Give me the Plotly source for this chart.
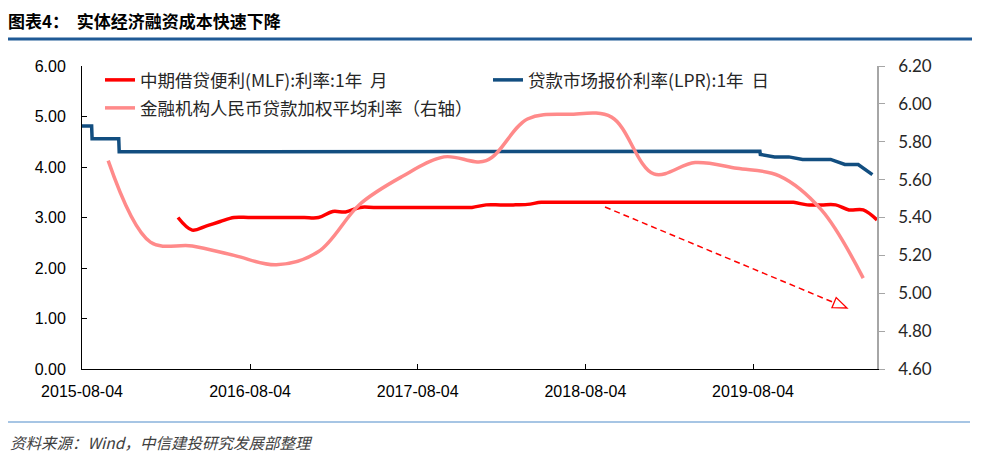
import pandas as pd
import plotly.graph_objects as go

# ---------------- data ----------------
# MLF 1-year rate, monthly (left axis)
mlf_dates = pd.date_range("2016-02-29", "2020-04-30", freq="ME")
mlf_values = [
    3.00, 2.75, 2.83, 2.92, 3.00, 3.00, 3.00, 3.00, 3.00, 3.00, 3.00,          # 2016 Feb-Dec
    3.12, 3.11, 3.20, 3.20, 3.20, 3.20, 3.20, 3.20, 3.20, 3.20, 3.20, 3.25,    # 2017
    3.25, 3.25, 3.26, 3.30, 3.30, 3.30, 3.30, 3.30, 3.30, 3.30, 3.30, 3.30,    # 2018
    3.30, 3.30, 3.30, 3.30, 3.30, 3.30, 3.30, 3.30, 3.30, 3.30, 3.25, 3.25,    # 2019
    3.25, 3.15, 3.15, 2.95,                                                    # 2020 Jan-Apr
]

# LPR 1-year, daily (change points, left axis)
lpr_dates = ["2015-08-04", "2015-08-25", "2015-08-26", "2015-10-23", "2015-10-24",
             "2018-03-01", "2018-03-02", "2019-08-19", "2019-08-20", "2019-09-20",
             "2019-10-21", "2019-11-20", "2019-12-20", "2020-01-20", "2020-02-20",
             "2020-03-20", "2020-04-20"]
lpr_values = [4.81, 4.81, 4.56, 4.56, 4.30,
              4.30, 4.31, 4.31, 4.25, 4.20,
              4.20, 4.15, 4.15, 4.15, 4.05,
              4.05, 3.85]

# Weighted average lending rate, quarterly (right axis)
wal_dates = ["2015-09-30", "2015-12-31", "2016-03-31", "2016-06-30", "2016-09-30",
             "2016-12-31", "2017-03-31", "2017-06-30", "2017-09-30", "2017-12-31",
             "2018-03-31", "2018-06-30", "2018-09-30", "2018-12-31", "2019-03-31",
             "2019-06-30", "2019-09-30", "2019-12-31", "2020-03-31"]
wal_values = [5.70, 5.27, 5.25, 5.20, 5.15,
              5.22, 5.47, 5.615, 5.72, 5.70,
              5.92, 5.945, 5.93, 5.63, 5.69,
              5.66, 5.62, 5.44, 5.08]

x_ticks = ["2015-08-04", "2016-08-04", "2017-08-04", "2018-08-04", "2019-08-04"]
x_range = ["2015-08-04", "2020-04-30"]

name_mlf = "中期借贷便利(MLF):利率:1年  月"
name_lpr = "贷款市场报价利率(LPR):1年  日"
name_wal = "金融机构人民币贷款加权平均利率（右轴）"
title_text = "图表4：  实体经济融资成本快速下降"
source_text = "资料来源：Wind，中信建投研究发展部整理"

# ---------------- layout helpers ----------------
W, H = 994, 461
L, R, T, B = 82, 877, 66, 369


def pxx(px):
    return (px - L) / (R - L)


def pxy(py):
    return (B - py) / (B - T)


CJK = "Noto Sans CJK SC"

fig = go.Figure()
fig.add_trace(go.Scatter(x=mlf_dates, y=mlf_values, name=name_mlf, mode="lines",
                         line=dict(color="#FF0000", width=3.5, shape="spline", smoothing=1),
                         legend="legend"))
fig.add_trace(go.Scatter(x=lpr_dates, y=lpr_values, name=name_lpr, mode="lines",
                         line=dict(color="#124E80", width=3.5),
                         legend="legend"))
fig.add_trace(go.Scatter(x=wal_dates, y=wal_values, name=name_wal, mode="lines",
                         line=dict(color="#FF8A8A", width=3.5, shape="spline", smoothing=1),
                         yaxis="y2", legend="legend2"))

# dashed arrow (decoration)
sx, sy, ex, ey = 605, 207, 847, 308
fig.add_shape(type="line", xref="paper", yref="paper",
              x0=pxx(sx), y0=pxy(sy), x1=pxx(ex - 3), y1=pxy(ey - 1.2),
              line=dict(color="#FF0000", width=1.5, dash="6px,4px"))
ux, uy = (ex - sx), (ey - sy)
n = (ux ** 2 + uy ** 2) ** 0.5
ux, uy = ux / n, uy / n
bx, by = ex - 14 * ux, ey - 14 * uy
c1 = (bx - 5.5 * uy, by + 5.5 * ux)
c2 = (bx + 5.5 * uy, by - 5.5 * ux)
path = "M {} {} L {} {} L {} {} Z".format(pxx(c1[0]), pxy(c1[1]), pxx(ex), pxy(ey),
                                         pxx(c2[0]), pxy(c2[1]))
fig.add_shape(type="path", xref="paper", yref="paper", path=path,
              line=dict(color="#FF0000", width=1.3), fillcolor="white")

# header / footer rules
fig.add_shape(type="line", xref="paper", yref="paper", x0=pxx(8), x1=pxx(972),
              y0=pxy(39), y1=pxy(39), line=dict(color="#1F5A96", width=3))
fig.add_shape(type="line", xref="paper", yref="paper", x0=pxx(8), x1=pxx(970),
              y0=pxy(422), y1=pxy(422), line=dict(color="#4F8BC9", width=1))

fig.add_annotation(text=source_text, xref="paper", yref="paper", x=pxx(8), y=pxy(442),
                   xanchor="left", yanchor="middle", showarrow=False,
                   font=dict(family=CJK, size=15.5, color="#404040", style="italic"))

fig.update_layout(
    width=W, height=H, autosize=False,
    margin=dict(l=L, r=W - R, t=T, b=H - B),
    paper_bgcolor="white", plot_bgcolor="white",
    hovermode=False,
    title=dict(text=title_text, x=8 / W, xref="container", xanchor="left",
               y=1 - 22 / H, yref="container", yanchor="middle",
               font=dict(family=CJK, size=17, color="#000000", weight="bold")),
    legend=dict(orientation="h", x=pxx(100), y=pxy(80), xanchor="left", yanchor="middle",
                entrywidth=343, font=dict(family=CJK, size=17.5, color="#262626"),
                bgcolor="rgba(0,0,0,0)", traceorder="normal"),
    legend2=dict(orientation="h", x=pxx(100), y=pxy(108), xanchor="left", yanchor="middle",
                 font=dict(family=CJK, size=17.5, color="#262626"),
                 bgcolor="rgba(0,0,0,0)"),
    xaxis=dict(type="date", range=x_range, tickvals=x_ticks, ticktext=x_ticks,
               showgrid=False, zeroline=False, showline=True, linecolor="#000000", linewidth=1,
               ticks="inside", ticklen=5, tickcolor="#000000", ticklabelstandoff=8,
               tickfont=dict(family="Liberation Sans", size=16, color="#000000")),
    yaxis=dict(range=[0, 6], dtick=1, tickformat=".2f", showgrid=False, zeroline=False,
               showline=True, linecolor="#000000", linewidth=1,
               ticks="inside", ticklen=5, tickcolor="#000000", ticklabelstandoff=12,
               tickfont=dict(family="Liberation Sans", size=16, color="#000000")),
    yaxis2=dict(range=[4.6, 6.2], dtick=0.2, tickformat=".2f", overlaying="y", side="right",
                showgrid=False, zeroline=False, showline=True, linecolor="#A6A6A6", linewidth=1.5,
                ticks="outside", ticklen=6, tickcolor="#A6A6A6", ticklabelstandoff=10,
                tickfont=dict(family="Lato", size=17, color="#262626")),
)

fig.write_html("out.html", config={"displayModeBar": False},
               post_script="document.body.style.margin='0';document.body.style.overflow='hidden';")
